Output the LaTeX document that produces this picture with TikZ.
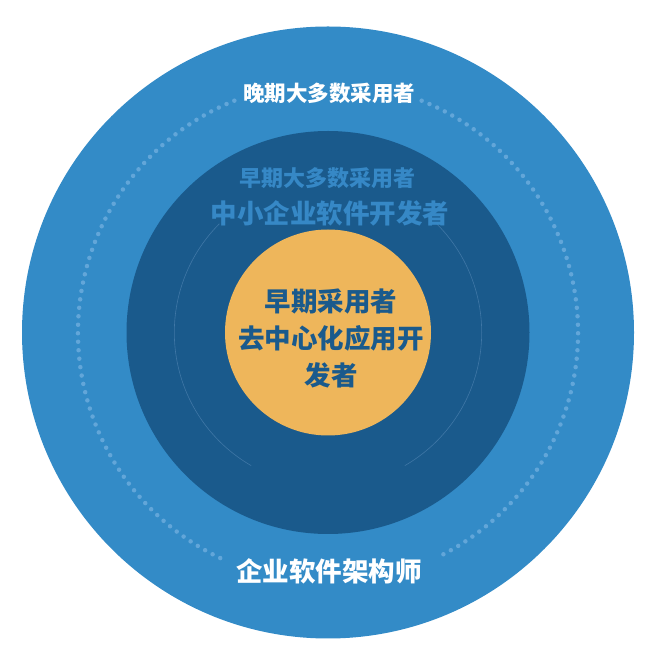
\documentclass[tikz,border=0pt]{standalone}
\usepackage{fontspec}
\newfontfamily\cjk{Noto Sans CJK SC}
\definecolor{ringblue}{HTML}{338BC7}
\definecolor{deepblue}{HTML}{1A5A8C}
\definecolor{sunyellow}{HTML}{EEB65B}
\definecolor{dotblue}{HTML}{62A6D9}
\definecolor{arcblue}{HTML}{3F77A6}
\definecolor{labelblue}{HTML}{3688C6}
\tikzset{
  dotring/.style={dotblue, line width=4.5pt, line cap=round, dash pattern=on 0pt off 8.5pt},
  label/.style={font=\cjk\bfseries\fontsize{#1}{#1}\selectfont, inner sep=0pt, align=center}
}
\begin{document}
\begin{tikzpicture}[x=1pt, y=1pt]
  \useasboundingbox (0,0) rectangle (660,664);
  \coordinate (c) at (328,331.5);
  % rings
  \fill[ringblue] (c) circle(306);
  \draw[dotring] (c) ++(68:250) arc[start angle=68, end angle=-63, radius=250];
  \draw[dotring] (c) ++(112:250) arc[start angle=112, end angle=245, radius=250];
  \fill[deepblue] (c) circle(201.5);
  \draw[arcblue, line width=0.6pt] (c) ++(45:153.7) arc[start angle=45, end angle=-60, radius=153.7];
  \draw[arcblue, line width=0.6pt] (c) ++(135:153.7) arc[start angle=135, end angle=240, radius=153.7];
  \fill[sunyellow] (c) circle(103);
  % labels
  \node[label=21.5, white] (late) at (329,570.7) {晚期大多数采用者};
  \node[label=22, labelblue] (early) at (327,486) {早期大多数采用者};
  \node[label=26.5, labelblue] (sme) at (330,451) {中小企业软件开发者};
  \node[label=26, deepblue, font=\cjk\bfseries\fontsize{26.5}{37}\selectfont] (dapp) at (331,326) {早期采用者\\去中心化应用开\\发者};
  \node[label=26.5, white] (arch) at (329,92.3) {企业软件架构师};
\end{tikzpicture}
\end{document}
